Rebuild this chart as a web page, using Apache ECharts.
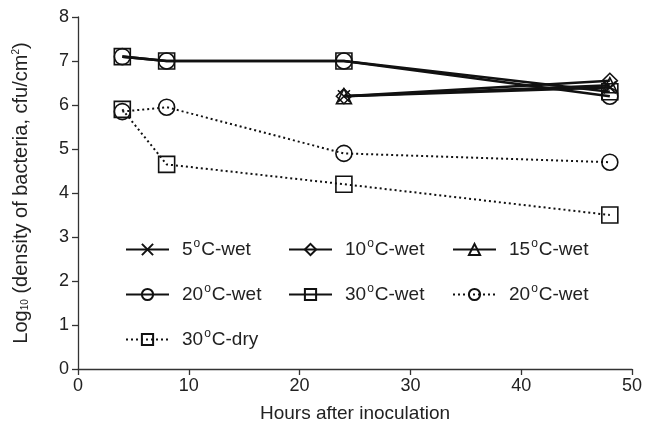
<!DOCTYPE html>
<html>
<head>
<meta charset="utf-8">
<script src="https://cdn.jsdelivr.net/npm/echarts@6/dist/echarts.min.js"></script>
<style>
  html, body { margin: 0; padding: 0; background: #fff; }
  #chart { width: 645px; height: 435px; }
</style>
</head>
<body>
<div id="chart"></div>
<script>
// sampling times (hours after inoculation)
const hours = [4, 8, 24, 48]

// log10 density readings, null where not sampled
const wet5 = [null, null, 6.2, 6.4]
const wet10 = [null, null, 6.2, 6.55]
const wet15 = [null, null, 6.2, 6.45]
const wet20 = [7.1, 7.0, 7.0, 6.2]
const wet30 = [7.1, 7.0, 7.0, 6.3]
const wet20b = [5.85, 5.95, 4.9, 4.7]
const dry30 = [5.9, 4.65, 4.2, 3.5]

const xTicks = [0, 10, 20, 30, 40, 50]
const yTicks = [0, 1, 2, 3, 4, 5, 6, 7, 8]

// legend text; the dotted 20°C series carries the same label as the solid one
const labels = {
  w5: '5{s|o}C-wet',
  w10: '10{s|o}C-wet',
  w15: '15{s|o}C-wet',
  w20: '20{s|o}C-wet',
  w30: '30{s|o}C-wet',
  w20b: '20{s|o}C-wet',
  d30: '30{s|o}C-dry'
}

const FONT = 'Liberation Sans, Arial, sans-serif'
const INK = '#111'

const toPoints = vals => hours.map((h, i) => [h, vals[i]]).filter(p => p[1] !== null)

const solid = { color: INK, width: 2.6, type: 'solid' }
const dotted = { color: INK, width: 2, type: [2, 3] }

function makeSeries(name, vals, symbol, size, lineStyle) {
  return {
    name,
    type: 'line',
    data: toPoints(vals),
    symbol,
    symbolSize: size,
    showAllSymbol: true,
    lineStyle,
    itemStyle: {
      color: 'rgba(0,0,0,0)',
      borderColor: INK,
      borderWidth: 1.6
    },
    emphasis: { disabled: true },
    animation: false
  }
}

const crossPath = 'path://M0,0L10,10M0,10L10,0'

const series = [
  makeSeries('w5', wet5, crossPath, 12, solid),
  makeSeries('w10', wet10, 'diamond', 15, solid),
  makeSeries('w15', wet15, 'triangle', 15, solid),
  makeSeries('w20', wet20, 'circle', 16, solid),
  makeSeries('w30', wet30, 'rect', 16, solid),
  makeSeries('w20b', wet20b, 'circle', 16, dotted),
  makeSeries('d30', dry30, 'rect', 16, dotted)
]

const legendText = {
  fontFamily: FONT,
  fontSize: 19,
  color: '#222',
  padding: [0, 0, 0, 8],
  rich: {
    s: { fontFamily: FONT, fontSize: 12, color: '#222', padding: [0, 1, 11, 1] }
  }
}

function makeLegend(left, names) {
  return {
    left,
    top: 238,
    padding: 0,
    orient: 'vertical',
    itemWidth: 43,
    itemHeight: 14,
    itemGap: 24,
    selectedMode: false,
    data: names,
    formatter: n => labels[n],
    textStyle: legendText
  }
}

const chart = echarts.init(document.getElementById('chart'))

chart.setOption({
  backgroundColor: '#fff',
  animation: false,
  grid: { left: 78, right: 10, top: 17, bottom: 66 },
  legend: [
    makeLegend(125, ['w5', 'w20', 'd30']),
    makeLegend(288, ['w10', 'w30']),
    makeLegend(452, ['w15', 'w20b'])
  ],
  xAxis: {
    type: 'value',
    min: xTicks[0],
    max: xTicks[xTicks.length - 1],
    interval: 10,
    name: 'Hours after inoculation',
    nameLocation: 'middle',
    nameGap: 35,
    nameTextStyle: { fontFamily: FONT, fontSize: 19, color: '#222' },
    axisLine: { lineStyle: { color: '#333', width: 1.3 } },
    axisTick: { length: 6, lineStyle: { color: '#333', width: 1.3 } },
    axisLabel: { fontFamily: FONT, fontSize: 18, color: '#222', margin: 8 },
    splitLine: { show: false }
  },
  yAxis: {
    type: 'value',
    min: yTicks[0],
    max: yTicks[yTicks.length - 1],
    interval: 1,
    name: 'Log{sub|10} (density of bacteria, cfu/cm{sup|2})',
    nameLocation: 'middle',
    nameGap: 47,
    nameTextStyle: {
      fontFamily: FONT,
      fontSize: 20,
      color: '#222',
      rich: {
        sub: { fontFamily: FONT, fontSize: 10, color: '#222', padding: [8, 0, 0, 0] },
        sup: { fontFamily: FONT, fontSize: 10, color: '#222', padding: [0, 0, 10, 0] }
      }
    },
    axisLine: { show: true, lineStyle: { color: '#333', width: 1.3 } },
    axisTick: { show: true, length: 6, lineStyle: { color: '#333', width: 1.3 } },
    axisLabel: { fontFamily: FONT, fontSize: 18, color: '#222', margin: 9 },
    splitLine: { show: false }
  },
  series
})
</script>
</body>
</html>
